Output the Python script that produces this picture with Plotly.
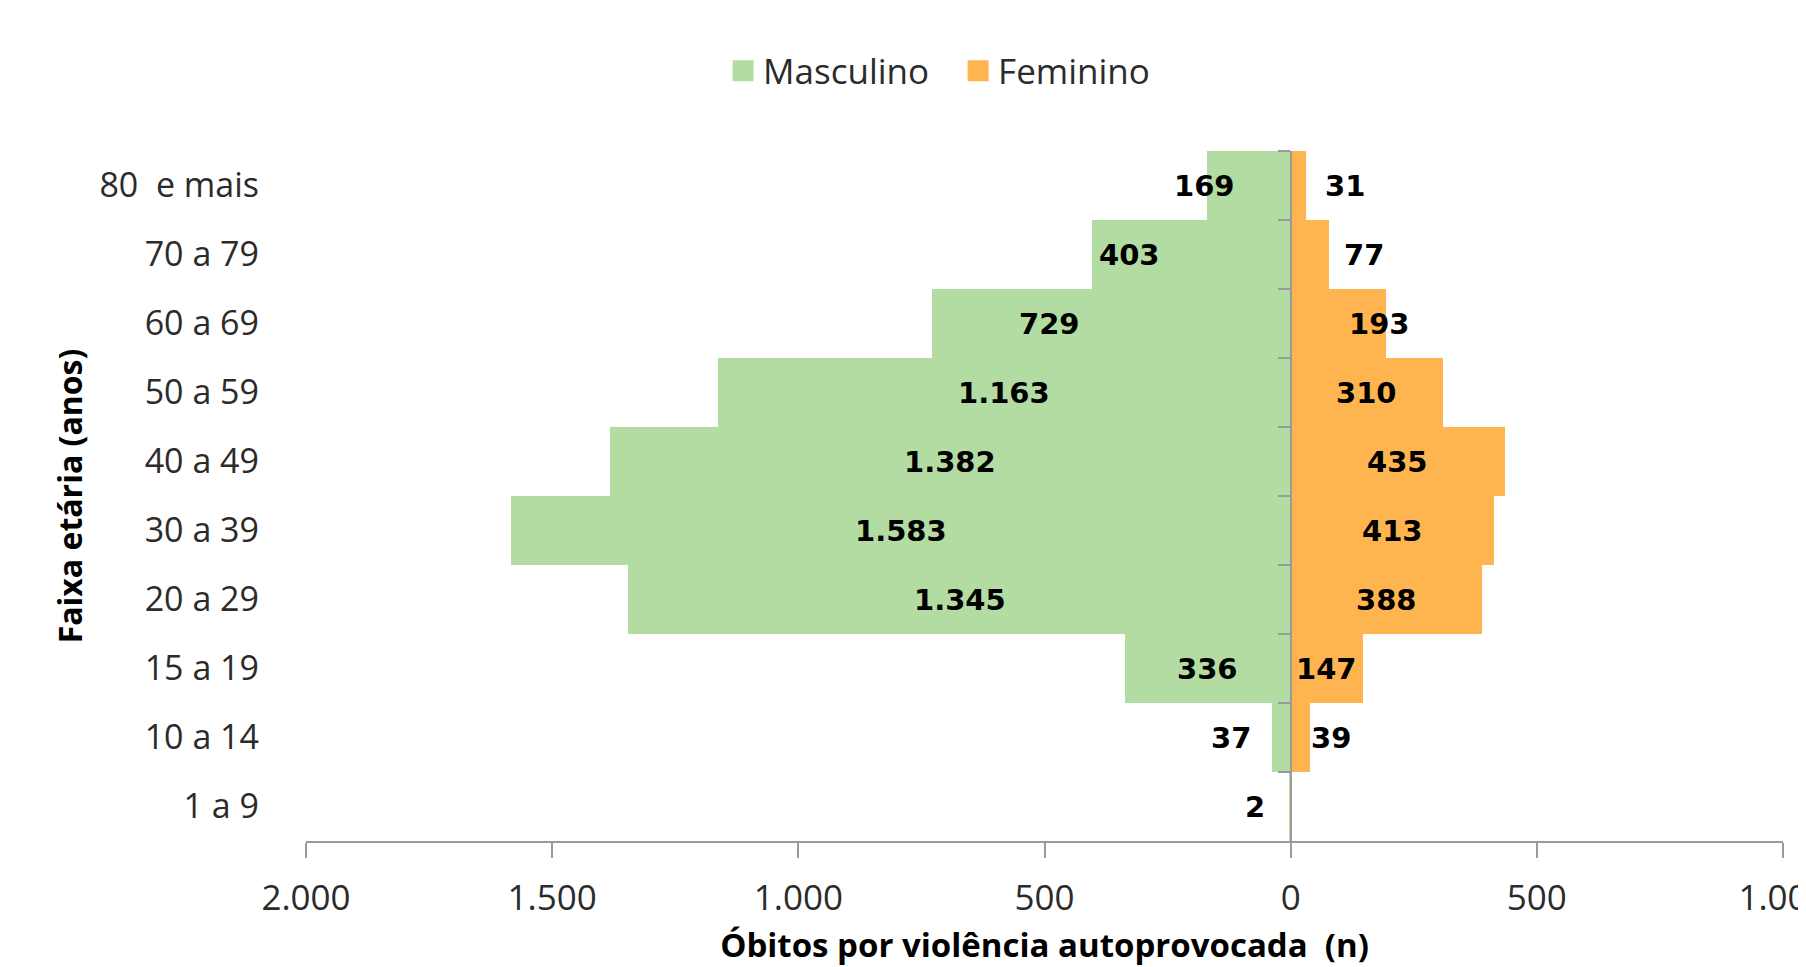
import plotly.graph_objects as go

# ---- data ----
age_groups = ["1 a 9", "10 a 14", "15 a 19", "20 a 29", "30 a 39",
              "40 a 49", "50 a 59", "60 a 69", "70 a 79", "80\u00a0 e mais"]
masculino = [2, 37, 336, 1345, 1583, 1382, 1163, 729, 403, 169]
feminino = [0, 39, 147, 388, 413, 435, 310, 193, 77, 31]
x_tickvals = [-2000, -1500, -1000, -500, 0, 500, 1000]
x_ticktext = ["2.000", "1.500", "1.000", "500", "0", "500", "1.000"]

# label pixel nudges (presentation only)
shift_m = [-35, -51, 0, 0, 0, 0, 0, -62, -62, -45]
shift_f = [0, 31, 0, 0, 0, 0, 0, 41, 54, 47]

GREEN = "#B3DCA3"
ORANGE = "#FFB54F"
AXIS = "#9A9A9A"
TXT = "#2B2B2B"
LABEL_FONT = dict(family="DejaVu Sans", size=29, color="black", weight="bold")

def fmt(v):
    return f"{v:,}".replace(",", ".")

fig = go.Figure()
fig.add_trace(go.Bar(y=age_groups, x=[-v for v in masculino], orientation="h",
                     marker=dict(color=GREEN, line=dict(width=0)),
                     name="Masculino", showlegend=False, hoverinfo="skip"))
fig.add_trace(go.Bar(y=age_groups, x=feminino, orientation="h",
                     marker=dict(color=ORANGE, line=dict(width=0)),
                     name="Feminino", showlegend=False, hoverinfo="skip"))

# legend proxies (also anchor the zero-line axis)
fig.add_trace(go.Scatter(x=[None], y=[None], mode="markers", name="Masculino",
                         marker=dict(symbol="square", size=16, color=GREEN,
                                     line=dict(width=5, color=GREEN)),
                         yaxis="y2", hoverinfo="skip"))
fig.add_trace(go.Scatter(x=[None], y=[None], mode="markers", name="Feminino",
                         marker=dict(symbol="square", size=16, color=ORANGE,
                                     line=dict(width=5, color=ORANGE)),
                         yaxis="y2", hoverinfo="skip"))

annotations = []
for i, cat in enumerate(age_groups):
    m = masculino[i]
    if m > 0:
        annotations.append(dict(x=-m / 2, y=cat, xref="x", yref="y", text=fmt(m),
                                showarrow=False, font=LABEL_FONT, xshift=shift_m[i]))
    f = feminino[i]
    if f > 0:
        annotations.append(dict(x=f / 2, y=cat, xref="x", yref="y", text=fmt(f),
                                showarrow=False, font=LABEL_FONT, xshift=shift_f[i]))

fig.update_layout(
    width=1798, height=959,
    margin=dict(l=298, r=23, t=143, b=126, autoexpand=False),
    paper_bgcolor="white", plot_bgcolor="white",
    barmode="relative", bargap=0,
    font=dict(family="Open Sans", color=TXT),
    annotations=annotations,
    legend=dict(orientation="h", x=0.4415, xanchor="center", y=1.116, yanchor="middle",
                font=dict(family="Open Sans", size=35, color=TXT),
                itemsizing="trace", entrywidth=190, bgcolor="rgba(0,0,0,0)"),
    xaxis=dict(range=[-2000, 1000], tickvals=x_tickvals, ticktext=x_ticktext,
               showgrid=False, zeroline=False, showline=True, linecolor=AXIS,
               linewidth=2, ticks="outside", ticklen=15, tickcolor=AXIS, tickwidth=2,
               tickfont=dict(family="Open Sans", size=35, color=TXT),
               ticklabelstandoff=10, ticklabeloverflow="allow",
               title=dict(text="<b>Óbitos por violência autoprovocada  (n)</b>",
                          font=dict(family="Open Sans", size=33, color="black"),
                          standoff=29)),
    yaxis=dict(type="category", categoryorder="array", categoryarray=age_groups,
               range=[-0.5, 9.5], showgrid=False, zeroline=False, showline=False,
               ticks="", tickfont=dict(family="Open Sans", size=34, color=TXT),
               ticklabelstandoff=46,
               title=dict(text="<b>Faixa etária (anos)</b>",
                          font=dict(family="Open Sans", size=32, color="black"),
                          standoff=7)),
    yaxis2=dict(overlaying="y", anchor="free", position=2 / 3, side="left",
                range=[-0.5, 9.5], tickvals=[i + 0.5 for i in range(len(age_groups))],
                showticklabels=False, showgrid=False, zeroline=False,
                showline=True, linecolor=AXIS, linewidth=2,
                ticks="outside", ticklen=12, tickcolor=AXIS, tickwidth=2),
)

fig.write_html("out.html")
